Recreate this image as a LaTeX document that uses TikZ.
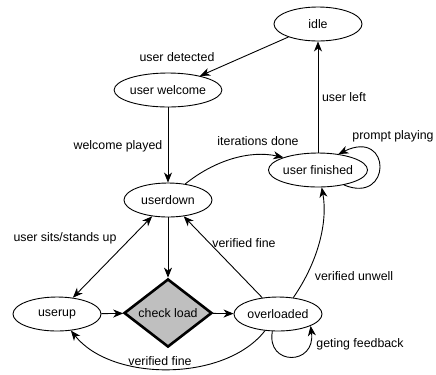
\documentclass[tikz,border=0pt]{standalone}
\usepackage{fontspec}
\setmainfont{Liberation Sans}
\usetikzlibrary{shapes.geometric,arrows.meta}
\begin{document}
\begin{tikzpicture}[x=1bp,y=-1bp,
  every node/.style={font=\fontsize{12.4}{14}\selectfont},
  state/.style={draw,ellipse,line width=0.9bp,minimum width=88bp,minimum height=34bp,inner sep=0pt},
  checkbox/.style={draw,diamond,line width=2.6bp,fill=black!25,minimum width=88bp,minimum height=44bp,inner sep=0pt},
  arr/.style={line width=0.9bp,-{Stealth[length=10bp,width=8bp,inset=3bp]}},
  darr/.style={line width=0.9bp,{Stealth[length=10bp,width=8bp,inset=3bp]}-{Stealth[length=10bp,width=8bp,inset=3bp]}},
  lbl/.style={inner sep=0pt}]
\useasboundingbox (0,0) rectangle (436,374);
\node[state] (idle) at (318,24) {idle};
\node[state] (uw) at (168,90) {user welcome};
\node[state] (uf) at (318,170) {user finished};
\node[state] (ud) at (168,200) {userdown};
\node[state] (uu) at (57,314) {userup};
\node[checkbox] (cl) at (168,313) {check load};
\node[state] (ov) at (278,314) {overloaded};
% edges
\draw[arr] (idle) -- (uw);
\draw[arr] (uw) -- (ud);
\draw[arr] (ud.43) .. controls (215,160) and (250,150) .. (uf.160);
\draw[arr] (uf) -- (idle);
\draw[arr] (uf.-30) .. controls (392,205) and (392,128) .. (uf.38);
\draw[darr] (uu) -- (ud);
\draw[arr] (ud) -- (cl);
\draw[arr] (uu) -- (cl);
\draw[arr] (cl) -- (ov);
\draw[arr] (ov) -- (ud);
\draw[arr] (ov.47) .. controls (318,262) and (328,222) .. (uf.-78);
\draw[arr] (ov.-108) .. controls (266,366) and (316,366) .. (ov.-20);
\draw[arr] (ov.-128) .. controls (225,382) and (112,382) .. (uu.-50);
% labels
\node[lbl] (l1) at (177,57) {user detected};
\node[lbl] (l2) at (118,146) {welcome played};
\node[lbl] (l3) at (258,141) {iterations done};
\node[lbl] (l4) at (344,97) {user left};
\node[lbl] (l5) at (393,136) {prompt playing};
\node[lbl] (l6) at (65,238) {user sits/stands up};
\node[lbl] (l7) at (244,243) {verified fine};
\node[lbl] (l8) at (354,276) {verified unwell};
\node[lbl] (l9) at (360,344) {geting feedback};
\node[lbl] (l10) at (160,361) {verified fine};
\end{tikzpicture}
\end{document}
